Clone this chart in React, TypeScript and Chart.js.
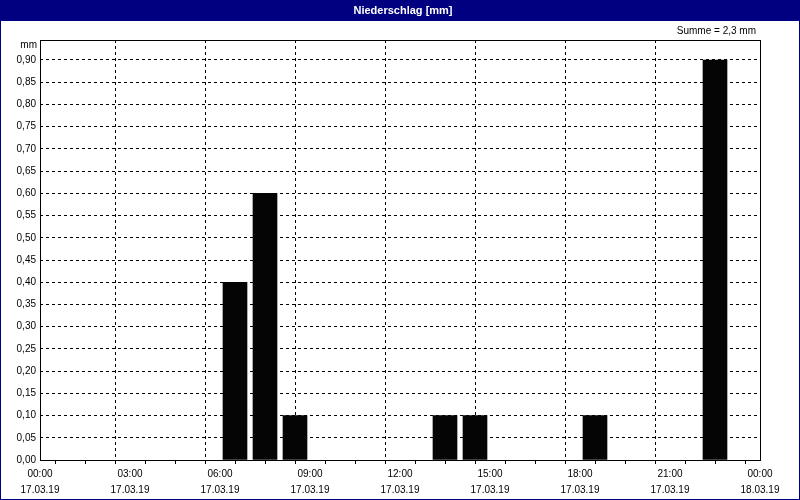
import React, { useEffect, useRef } from "react";
import { Chart, registerables } from "chart.js";

Chart.register(...registerables);

// Hour slot starts (bars cover one hour each) and precipitation values in mm
const hourSlots = [6, 7, 8, 13, 14, 18, 22];
const precipitation = [0.4, 0.6, 0.1, 0.1, 0.1, 0.1, 0.9];
const timeLabels = ["00:00", "03:00", "06:00", "09:00", "12:00", "15:00", "18:00", "21:00", "00:00"];
const dateLabels = ["17.03.19", "17.03.19", "17.03.19", "17.03.19", "17.03.19", "17.03.19", "17.03.19", "17.03.19", "18.03.19"];
const titleText = "Niederschlag [mm]";
const sumText = "Summe = 2,3 mm";
const unitText = "mm";
const yMaxLabelled = 0.9;
const yStep = 0.05;

const FONT = '"Liberation Sans", Arial, sans-serif';

export default function App() {
  const ref = useRef<HTMLCanvasElement | null>(null);

  useEffect(() => {
    if (!ref.current) return;
    const frame = {
      id: "frame",
      beforeDraw(chart: any) {
        const c = chart.ctx;
        c.save();
        c.fillStyle = "#ffffff";
        c.fillRect(0, 0, chart.width, chart.height);
        c.fillStyle = "#000080";
        c.fillRect(0, 0, chart.width, 21);
        c.fillStyle = "#ffffff";
        c.font = `bold 11px ${FONT}`;
        c.textAlign = "center";
        c.textBaseline = "middle";
        c.fillText(titleText, 403, 11);
        c.fillStyle = "#000000";
        c.font = `10px ${FONT}`;
        c.textAlign = "right";
        c.fillText(sumText, 756, 31);
        c.fillText(unitText, 37, 45);
        c.restore();
      },
      afterDraw(chart: any) {
        const c = chart.ctx;
        const a = chart.chartArea;
        c.save();
        c.strokeStyle = "#000000";
        c.lineWidth = 1;
        c.setLineDash([]);
        c.strokeRect(a.left + 0.5, a.top + 0.5, a.right - a.left, a.bottom - a.top);
        c.strokeStyle = "#000080";
        c.strokeRect(0.5, 0.5, chart.width - 1, chart.height - 1);
        c.restore();
      },
    };

    const chart = new Chart(ref.current, {
      type: "bar",
      data: {
        datasets: [
          {
            data: hourSlots.map((h, i) => ({ x: h + 0.5, y: precipitation[i] })),
            backgroundColor: "#050505",
            borderWidth: 0,
            barThickness: 24,
          },
        ],
      },
      options: {
        animation: false,
        responsive: false,
        layout: { padding: { top: 40, right: 40, left: 0, bottom: 0 } },
        plugins: { legend: { display: false }, tooltip: { enabled: false }, title: { display: false } },
        scales: {
          x: {
            type: "linear",
            min: 0,
            max: 24,
            offset: false,
            afterFit(s: any) {
              s.height = 40;
            },
            ticks: {
              stepSize: 1,
              autoSkip: false,
              maxRotation: 0,
              minRotation: 0,
              padding: 2,
              color: "#000000",
              font: { family: FONT, size: 10, lineHeight: 1.6 },
              callback(v: any) {
                const n = Number(v);
                if (n % 3 !== 0) return "";
                const k = n / 3;
                return [timeLabels[k], dateLabels[k]];
              },
            },
            grid: {
              color: (ctx: any) => {
                const v = ctx.tick ? ctx.tick.value : 0;
                return v % 3 === 0 && v !== 0 && v !== 24 ? "#000000" : "rgba(0,0,0,0)";
              },
              tickColor: "#000000",
              tickLength: 4,
              lineWidth: 1,
            },
            border: { display: false, dash: [3, 3] },
          },
          y: {
            min: 0,
            max: 0.945,
            afterFit(s: any) {
              s.width = 40;
            },
            afterBuildTicks(s: any) {
              s.ticks = s.ticks.filter((t: any) => t.value <= yMaxLabelled + 1e-6);
            },
            ticks: {
              stepSize: yStep,
              padding: 4,
              color: "#000000",
              font: { family: FONT, size: 10 },
              callback(v: any) {
                return Number(v).toFixed(2).replace(".", ",");
              },
            },
            grid: {
              color: (ctx: any) => (ctx.tick && ctx.tick.value > 0 ? "#000000" : "rgba(0,0,0,0)"),
              drawTicks: false,
              lineWidth: 1,
            },
            border: { display: false, dash: [3, 3] },
          },
        },
      },
      plugins: [frame],
    } as any);
    return () => chart.destroy();
  }, []);

  return (
    <div style={{ position: "absolute", left: 0, top: 0, width: 800, height: 500 }}>
      <canvas ref={ref} width={800} height={500} style={{ display: "block" }} />
    </div>
  );
}
